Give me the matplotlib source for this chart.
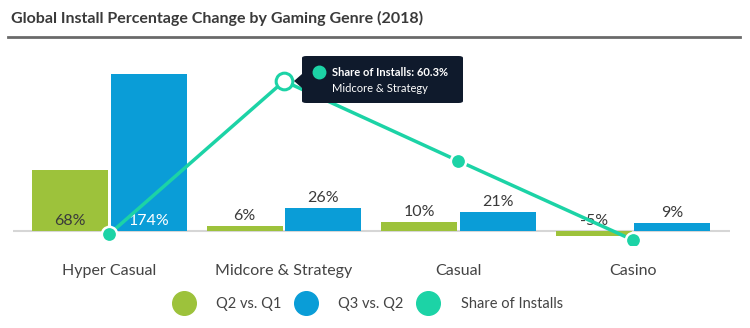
import matplotlib.pyplot as plt
from matplotlib.lines import Line2D
from matplotlib.patches import FancyBboxPatch, Polygon

plt.rcParams['font.family'] = ['Lato', 'DejaVu Sans']

genres = ["Hyper Casual", "Midcore & Strategy", "Casual", "Casino"]
q2_vs_q1 = [68, 6, 10, -5]
q3_vs_q2 = [174, 26, 21, 9]
share_of_installs = [5.2, 60.3, 31.5, 3.0]

GREEN = "#9dc23b"
BLUE = "#0a9dd7"
TEAL = "#1cd3a6"
TEXT = "#3a3a3a"

fig = plt.figure(figsize=(7.5, 3.28), dpi=100)
W, H = 750, 328

# main axes, placed in pixel terms
left, right, top, bottom = 13, 730, 55, 245
ax = fig.add_axes([left / W, 1 - bottom / H, (right - left) / W, (bottom - top) / H])
ax2 = ax.twinx()

x = list(range(len(genres)))
bw = 0.435
off = 0.225
ax.bar([i - off for i in x], q2_vs_q1, width=bw, color=GREEN, zorder=2)
ax.bar([i + off for i in x], q3_vs_q2, width=bw, color=BLUE, zorder=2)
ax.axhline(0, color="#d6d6d6", lw=1.5, zorder=1)

ax.set_xlim(-0.553, 3.556)
ax.set_ylim(-15.5, 195.1)
ax2.set_ylim(1.22, 69.7)

# value labels on the bars
for i, (g, b) in enumerate(zip(q2_vs_q1, q3_vs_q2)):
    if i == 0:
        ax.text(i - off, 3, f"{g}%", ha="center", va="bottom", fontsize=11.5, color=TEXT, zorder=3)
        ax.text(i + off, 3, f"{b}%", ha="center", va="bottom", fontsize=11.5, color="white", zorder=3)
    else:
        ax.text(i - off, max(g, 0) + 3, f"{g}%", ha="center", va="bottom", fontsize=11.5, color=TEXT, zorder=3)
        ax.text(i + off, b + 3, f"{b}%", ha="center", va="bottom", fontsize=11.5, color=TEXT, zorder=3)

# share of installs line
ax2.plot(x, share_of_installs, color=TEAL, lw=2.5, zorder=4)
for i, v in enumerate(share_of_installs):
    if i == 1:
        ax2.plot(i, v, "o", ms=12, mfc="white", mec=TEAL, mew=2.2, zorder=5)
    else:
        ax2.plot(i, v, "o", ms=11, mfc=TEAL, mec="white", mew=1.8, zorder=5)

for a in (ax, ax2):
    for s in a.spines.values():
        s.set_visible(False)
    a.set_yticks([])
ax.set_xticks(x)
ax.set_xticklabels(genres, fontsize=11.5, color="#444444")
ax.tick_params(axis="x", length=0, pad=14)

# tooltip for the highlighted point
tip = FancyBboxPatch((302 / W, 1 - 103 / H), 161 / W, 47 / H,
                     boxstyle="round,pad=0,rounding_size=0.006",
                     transform=fig.transFigure, facecolor="#0f1a2c", edgecolor="none", zorder=10)
fig.patches.append(tip)
fig.patches.append(Polygon([(302 / W, 1 - 74 / H), (294 / W, 1 - 81 / H), (302 / W, 1 - 88 / H)],
                           closed=True, transform=fig.transFigure, facecolor="#0f1a2c",
                           edgecolor="none", zorder=10))
fig.add_artist(Line2D([319 / W], [1 - 72 / H], marker="o", ms=9, color=TEAL, lw=0,
                      transform=fig.transFigure, zorder=11))
fig.text(332 / W, 1 - 72 / H, "Share of Installs: 60.3%", fontsize=8, fontweight="bold",
         color="white", va="center", zorder=11)
fig.text(332 / W, 1 - 88 / H, "Midcore & Strategy", fontsize=8, color="white", va="center", zorder=11)

# title and rule
fig.text(11 / W, 1 - 18 / H, "Global Install Percentage Change by Gaming Genre (2018)",
         fontsize=11.5, fontweight="bold", color="#3a3a3a", va="center")
fig.add_artist(Line2D([8 / W, 740 / W], [1 - 37 / H, 1 - 37 / H], color="#6a6a6a", lw=2,
                      transform=fig.transFigure))

handles = [Line2D([], [], marker="o", lw=0, ms=17, color=c) for c in (GREEN, BLUE, TEAL)]
fig.legend(handles, ["Q2 vs. Q1", "Q3 vs. Q2", "Share of Installs"], loc="center",
           bbox_to_anchor=(366 / W, 1 - 304 / H), ncol=3, frameon=False, fontsize=10.5,
           labelcolor="#444444", handletextpad=1.2, columnspacing=0.7)

fig.savefig("out.png", dpi=100)
